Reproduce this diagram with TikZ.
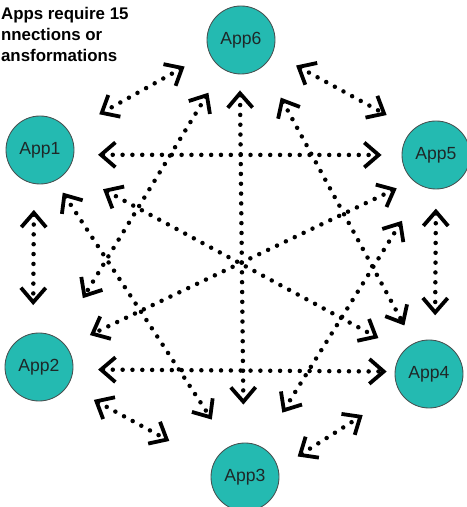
\documentclass[tikz,border=0pt]{standalone}
\usepackage{fontspec}
\setmainfont{Liberation Sans}
\usetikzlibrary{arrows.meta}
\definecolor{appfill}{RGB}{36,186,177}
\definecolor{appline}{RGB}{70,80,80}
\definecolor{applabel}{RGB}{30,40,40}
\tikzset{
    app/.style = {
        circle, draw=appline, fill=appfill,
        line width=0.6pt,
        minimum size=1.7cm, inner sep=0pt,
        text=applabel,
        font=\fontsize{12.5}{14}\selectfont
    },
    link/.style = {
        line width=3.2pt, line cap=round,
        dash pattern=on 0pt off 7pt,
        {Straight Barb[length=3.6mm,width=6.2mm,line width=2.7pt]}-{Straight Barb[length=3.6mm,width=6.2mm,line width=2.7pt]}
    }
}

\begin{document}
\begin{tikzpicture}
\useasboundingbox (0,0) rectangle (11.675,12.675);

\node (title) [anchor=north west, inner sep=0pt, align=left, font=\fontsize{12}{15}\selectfont\bfseries] at (0.02,12.5) {Apps require 15\\nnections or\\ansformations};

\node (App6) [app] at (6.025,11.675) {App6};
\node (App1) [app] at (1.0,8.925) {App1};
\node (App5) [app] at (10.9,8.8) {App5};
\node (App2) [app] at (0.975,3.5) {App2};
\node (App4) [app] at (10.725,3.325) {App4};
\node (App3) [app] at (6.125,0.75) {App3};

% ring
\draw [link, shorten <=0.7cm, shorten >=0.87cm] (App6.202) -- (App1.33);
\draw [link, shorten <=0.66cm, shorten >=0.75cm] (App6.338) -- (App5.132);
\draw [link, shorten <=0.6cm, shorten >=0.5cm] (App1.352) -- (App5.180);
\draw [link, shorten <=0.65cm, shorten >=0.7cm] (App1.260) -- (App2.100);
\draw [link, shorten <=0.48cm, shorten >=0.62cm] (App5.270) -- (App4.80);
\draw [link, shorten <=0.62cm, shorten >=0.2cm] (App2.356) -- (App4.176);
\draw [link, shorten <=0.74cm, shorten >=1.24cm] (App2.327) -- (App3.159);
\draw [link, shorten <=0.57cm, shorten >=1.09cm] (App3.14) -- (App4.211);

% cross links
\draw [link, shorten <=0.4cm, shorten >=0.95cm] (App6.268) -- (App3.92);
\draw [link, shorten <=0.69cm, shorten >=1.18cm] (App6.238) -- (App2.56);
\draw [link, shorten <=0.9cm, shorten >=0.5cm] (App6.311) -- (App4.116);
\draw [link, shorten <=0.35cm, shorten >=0.8cm] (App1.296) -- (App3.117);
\draw [link, shorten <=1.0cm, shorten >=0.7cm] (App1.324) -- (App4.139);
\draw [link, shorten <=0.45cm, shorten >=0.65cm] (App5.228) -- (App2.37);
\draw [link, shorten <=1.0cm, shorten >=1.0cm] (App5.248) -- (App3.62);

\end{tikzpicture}
\end{document}
